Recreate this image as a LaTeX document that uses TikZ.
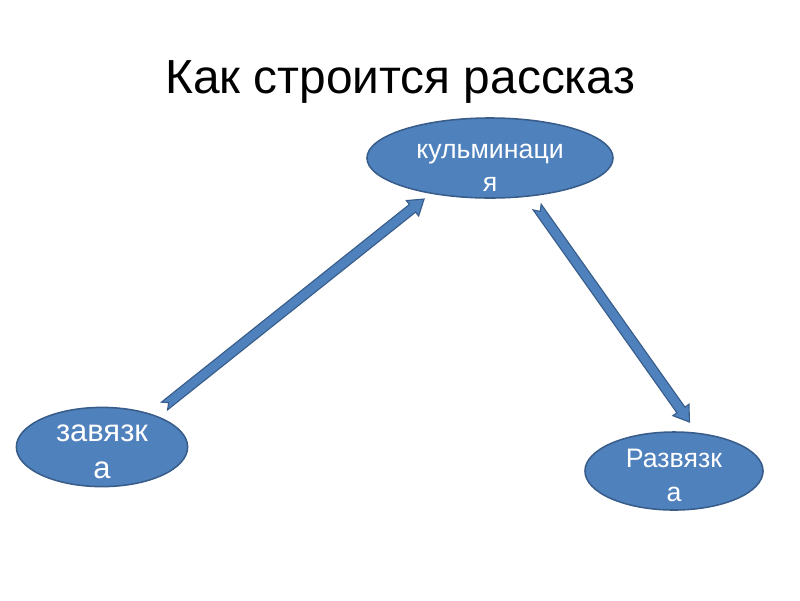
\documentclass[tikz,border=0pt]{standalone}
\usepackage{fontspec}
\setmainfont{Liberation Sans}
\usetikzlibrary{calc,shapes.geometric,positioning}
\definecolor{ovalblue}{HTML}{4F81BD}
\definecolor{edgeblue}{HTML}{385D8A}
\tikzset{
  oval/.style={ellipse, draw=edgeblue, fill=ovalblue, line width=1.1pt,
    inner sep=0pt, outer sep=0pt, text=white, font=\fontsize{19}{24}\selectfont},
  blockarrow/.style={draw=edgeblue, fill=ovalblue, line width=0.8pt, line join=miter}
}
% text lines inside an oval, first baseline raised by #1 from the centre
\newcommand\ovtext[2]{\raisebox{#1}{\smash{\begin{tabular}[t]{@{}c@{}}#2\end{tabular}}}}
% notched block arrow from #1 (tail) to #2 (tip)
\newcommand\notcharrow[2]{%
  \path[blockarrow] ($(#1)!3.5pt!90:(#2)$)
    -- ($(#2)!10.5pt!(#1)!3.5pt!-90:(#1)$)
    -- ($(#2)!10.5pt!(#1)!7pt!-90:(#1)$)
    -- (#2)
    -- ($(#2)!10.5pt!(#1)!7pt!90:(#1)$)
    -- ($(#2)!10.5pt!(#1)!3.5pt!90:(#1)$)
    -- ($(#1)!3.5pt!-90:(#2)$)
    -- ($(#1)!3.8pt!(#2)$) -- cycle;}

\begin{document}
\begin{tikzpicture}[x=0.025cm, y=-0.025cm]
\fill[white] (0,0) rectangle (800,600);
\useasboundingbox (0,0) rectangle (800,600);

\node[anchor=base, font=\fontsize{34}{40}\selectfont] (title) at (400,93) {Как строится рассказ};

\node[oval, minimum width=6.15cm, minimum height=2cm] (kul) at (490,158) {\ovtext{0pt}{кульминаци\\я}};
\node[oval, minimum width=4.28cm, minimum height=1.98cm, font=\fontsize{22}{26.5}\selectfont] (zav) at (102,447) {\ovtext{7.8pt}{завязк\\а}};
\node[oval, minimum width=4.45cm, minimum height=1.95cm] (raz) at (674,471) {\ovtext{4.3pt}{Развязк\\а}};

% arrow ends, a little off the ovals
\coordinate (zavout) at ($(zav.32)!10.5pt!(kul.211)$);
\coordinate (kulin) at ($(kul.211)!6.7pt!(zav.32)$);
\coordinate (kulout) at ($(kul.-44)!9.7pt!(raz.58)$);
\coordinate (razin) at ($(raz.58)!9.9pt!(kul.-44)$);

\notcharrow{zavout}{kulin}
\notcharrow{kulout}{razin}
\end{tikzpicture}
\end{document}
